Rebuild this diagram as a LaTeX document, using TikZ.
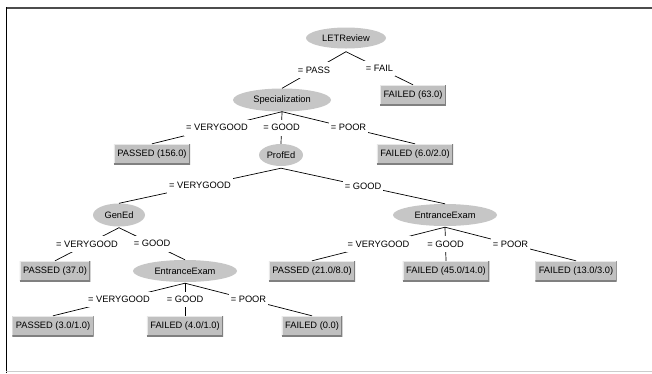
\documentclass[tikz,border=0pt]{standalone}
\usepackage{fontspec}
\setmainfont{Liberation Sans}
\usetikzlibrary{shapes.geometric,calc}
\definecolor{ellgray}{HTML}{C6C6C6}
\definecolor{boxgray}{HTML}{C0C0C0}
\definecolor{bevlight}{HTML}{E8E8E8}
\definecolor{bevdark}{HTML}{808080}
\begin{document}
\begin{tikzpicture}[x=1pt,y=-1pt,
  every node/.style={font=\fontsize{9.3}{10}\selectfont},
  attr/.style={ellipse, fill=ellgray, inner sep=0pt},
  leaf/.style={rectangle, fill=boxgray, minimum height=20pt, inner xsep=3.5pt, inner ysep=0pt,
    path picture={
      \draw[bevlight, line width=2pt] (path picture bounding box.south west) |- (path picture bounding box.north east);
      \draw[bevdark, line width=2pt] (path picture bounding box.south west) -| (path picture bounding box.north east);}},
  edge/.style={draw=black, line width=0.7pt},
  lbl/.style={fill=white, inner xsep=2pt, inner ysep=4.5pt}]
\useasboundingbox (0,0) rectangle (652,373);
% frame
\draw[color=black!70, line width=2pt] (6,7.5) -- (652,7.5);
\draw[color=black, line width=1.5pt] (6.5,7) -- (6.5,373);
\draw[color=black!20, line width=1pt] (6,371.5) -- (652,371.5);
% nodes
\node[attr, minimum width=80pt, minimum height=21pt] (root) at (346,38) {LETReview};
\node[attr, minimum width=98pt, minimum height=23pt] (spec) at (282,100) {Specialization};
\node[leaf] (f63) at (413,95) {FAILED (63.0)};
\node[leaf] (p156) at (152,154) {PASSED (156.0)};
\node[attr, minimum width=44pt, minimum height=22pt] (prof) at (281,155) {ProfEd};
\node[leaf] (f62) at (415,154) {FAILED (6.0/2.0)};
\node[attr, minimum width=52pt, minimum height=23pt] (gen) at (119,215) {GenEd};
\node[attr, minimum width=104pt, minimum height=22pt] (eer) at (445,215) {EntranceExam};
\node[leaf] (p37) at (55,271) {PASSED (37.0)};
\node[attr, minimum width=104pt, minimum height=22pt] (eel) at (185,271) {EntranceExam};
\node[leaf] (p218) at (312,271) {PASSED (21.0/8.0)};
\node[leaf] (f4514) at (446,271) {FAILED (45.0/14.0)};
\node[leaf] (f133) at (576,271) {FAILED (13.0/3.0)};
\node[leaf] (p31) at (53,326) {PASSED (3.0/1.0)};
\node[leaf] (f41) at (185,326) {FAILED (4.0/1.0)};
\node[leaf] (f0) at (312,326) {FAILED (0.0)};
% edges
\draw[edge] ($(root.south)+(0,3)$) -- node[lbl]{= PASS} (spec.north);
\draw[edge] ($(root.south)+(0,3)$) -- node[lbl]{= FAIL} (f63.north);
\draw[edge] ($(spec.south)+(0,0)$) -- node[lbl]{= VERYGOOD} (p156.north);
\draw[edge] ($(spec.south)+(0,0)$) -- node[lbl]{= GOOD} (prof.north);
\draw[edge] ($(spec.south)+(0,0)$) -- node[lbl]{= POOR} (f62.north);
\draw[edge] ($(prof.south)+(0,2)$) -- node[lbl]{= VERYGOOD} (gen.north);
\draw[edge] ($(prof.south)+(0,2)$) -- node[lbl]{= GOOD} (eer.north);
\draw[edge] ($(gen.south)+(0,1)$) -- node[lbl]{= VERYGOOD} (p37.north);
\draw[edge] ($(gen.south)+(0,1)$) -- node[lbl]{= GOOD} (eel.north);
\draw[edge] ($(eer.south)+(0,1)$) -- node[lbl]{= VERYGOOD} (p218.north);
\draw[edge] ($(eer.south)+(0,1)$) -- node[lbl]{= GOOD} (f4514.north);
\draw[edge] ($(eer.south)+(0,1)$) -- node[lbl]{= POOR} (f133.north);
\draw[edge] ($(eel.south)+(0,1)$) -- node[lbl]{= VERYGOOD} (p31.north);
\draw[edge] ($(eel.south)+(0,1)$) -- node[lbl]{= GOOD} (f41.north);
\draw[edge] ($(eel.south)+(0,1)$) -- node[lbl]{= POOR} (f0.north);
\end{tikzpicture}
\end{document}
